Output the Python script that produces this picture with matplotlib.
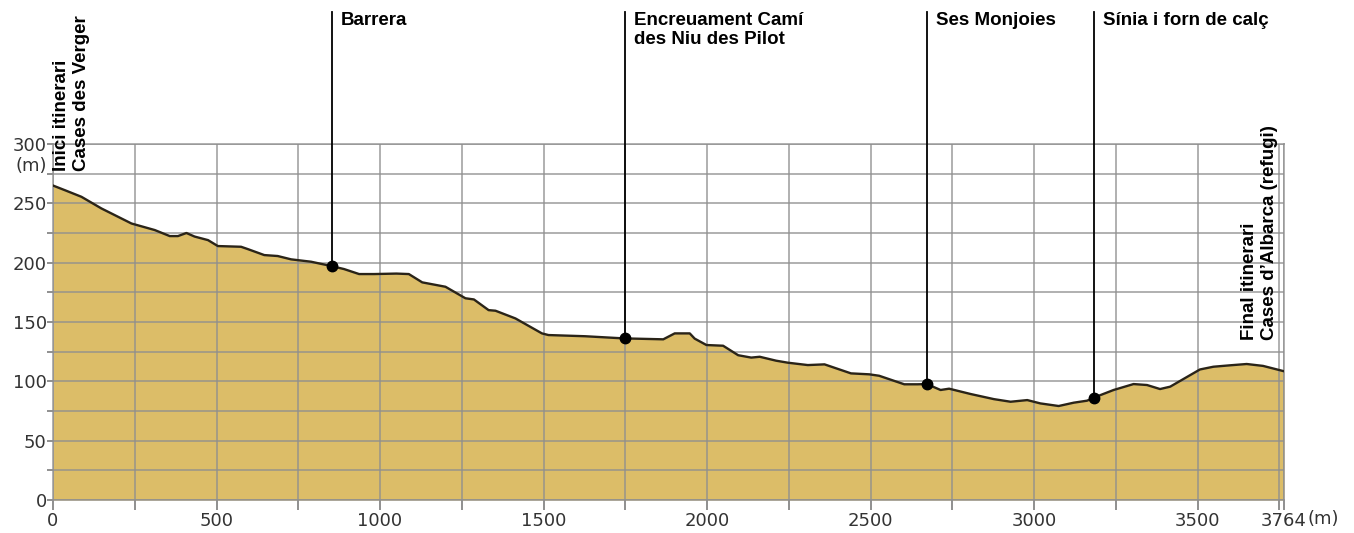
import numpy as np
import matplotlib
matplotlib.use('Agg')
import matplotlib.pyplot as plt

# Elevation profile (distance in m, elevation in m)
dist = [0, 37, 87, 148, 240, 311, 357, 382, 408, 433, 474, 504, 575, 595, 646,
        687, 728, 789, 852, 890, 936, 982, 1050, 1088, 1129, 1200, 1261, 1287,
        1332, 1353, 1414, 1495, 1515, 1627, 1744, 1866, 1901, 1947, 1962, 1998,
        2049, 2095, 2135, 2161, 2211, 2247, 2308, 2359, 2440, 2496, 2526, 2603,
        2643, 2672, 2714, 2740, 2806, 2877, 2928, 2979, 3019, 3075, 3121, 3162,
        3182, 3243, 3304, 3345, 3385, 3416, 3507, 3548, 3599, 3650, 3700, 3764]
elev = [265, 261, 255.5, 245.7, 233, 227.5, 222.4, 222.4, 225, 222, 219, 214,
        213.4, 211.5, 206.4, 205.6, 202.8, 200.8, 197.1, 194.6, 190.4, 190.4,
        190.8, 190.4, 183.4, 179.7, 170, 169, 160, 159.5, 153, 140.4, 139, 138,
        136.2, 135.4, 140.4, 140.4, 136, 130.6, 130, 122, 120, 120.7, 117.4,
        115.7, 113.7, 114.3, 106.7, 105.9, 104.7, 97.5, 97.5, 97.7, 92.7, 93.8,
        89.3, 85, 82.8, 84.2, 81.4, 79.2, 82, 83.7, 86.2, 92.7, 97.7, 96.9,
        93.5, 95.5, 110, 112.3, 113.5, 114.6, 113, 108.5]

# Waypoints along the route
wp_names = ['Barrera', 'Encreuament Camí\ndes Niu des Pilot', 'Ses Monjoies',
            'Sínia i forn de calç']
wp_dist = [852, 1750, 2672, 3182]
wp_elev = [197.1, 136.2, 97.7, 86.2]

start_label = 'Inici itinerari\nCases des Verger'
end_label = 'Final itinerari\nCases d\u2019Albarca (refugi)'

total_len = 3764
x_labels = [0, 500, 1000, 1500, 2000, 2500, 3000, 3500, 3764]
y_labels = [0, 50, 100, 150, 200, 250, 300]

plt.rcParams['font.family'] = ['Liberation Sans', 'DejaVu Sans']

fill_col = '#dcbd68'
grid_col = '#8f8f8f'
txt_col = '#333333'
tick_font = 'DejaVu Sans'

fig = plt.figure(figsize=(13.54, 5.33), dpi=100)
ax = fig.add_axes([53 / 1354, 33 / 533, 1231 / 1354, 356 / 533])

ax.fill_between(dist, elev, 0, color=fill_col, linewidth=0, zorder=1)
ax.plot(dist, elev, color='#2a2418', linewidth=1.7, zorder=3)

ax.set_xlim(0, total_len)
ax.set_ylim(0, 300)

# grid every 250 m / 25 m, drawn over the fill
xt = list(range(0, 3751, 250)) + [total_len]
ax.set_xticks(xt)
ax.set_xticklabels([str(v) if v in x_labels else '' for v in xt],
                   family=tick_font)
yt = list(range(0, 301, 25))
ax.set_yticks(yt)
ax.set_yticklabels([str(v) if v in y_labels else '' for v in yt],
                   family=tick_font)
ax.grid(True, color=grid_col, linewidth=1.4, alpha=0.7, zorder=2)
ax.set_axisbelow(False)
for s in ax.spines.values():
    s.set_color(grid_col)
    s.set_linewidth(1.4)
    s.set_alpha(0.7)
ax.tick_params(axis='x', length=7, width=1.4, color=grid_col, pad=2,
               labelsize=13, labelcolor=txt_col)
ax.tick_params(axis='y', length=4, width=1.4, color=grid_col, pad=0.5,
               labelsize=13, labelcolor=txt_col)

# unit labels
ax.annotate('(m)', xy=(0, 300), xycoords='data', xytext=(-4.5, -9),
            textcoords='offset points', ha='right', va='top', fontsize=13,
            family=tick_font, color=txt_col, annotation_clip=False)
ax.annotate('(m)', xy=(total_len, 0), xycoords='data', xytext=(17, -7),
            textcoords='offset points', ha='left', va='top', fontsize=13,
            family=tick_font, color=txt_col, annotation_clip=False)

# waypoint markers
for name, d, e in zip(wp_names, wp_dist, wp_elev):
    ax.plot([d, d], [e, 411], color='black', linewidth=1.3, clip_on=False,
            zorder=4)
    ax.plot(d, e, 'o', color='black', markersize=7.5, clip_on=False, zorder=5)
    ax.annotate(name, xy=(d, 411), xytext=(6.5, 0), textcoords='offset points',
                ha='left', va='top', fontsize=13.5, fontweight='bold',
                linespacing=1.15, annotation_clip=False)

ax.text(0, 277, start_label, rotation=90, ha='left', va='bottom',
        multialignment='left', fontsize=13.5, fontweight='bold',
        linespacing=1.2, clip_on=False, zorder=6)
ax.text(3745, 135, end_label, rotation=90, ha='right', va='bottom',
        multialignment='left', fontsize=13.5, fontweight='bold',
        linespacing=1.2, clip_on=False, zorder=6)

plt.savefig('out.png', dpi=100)
